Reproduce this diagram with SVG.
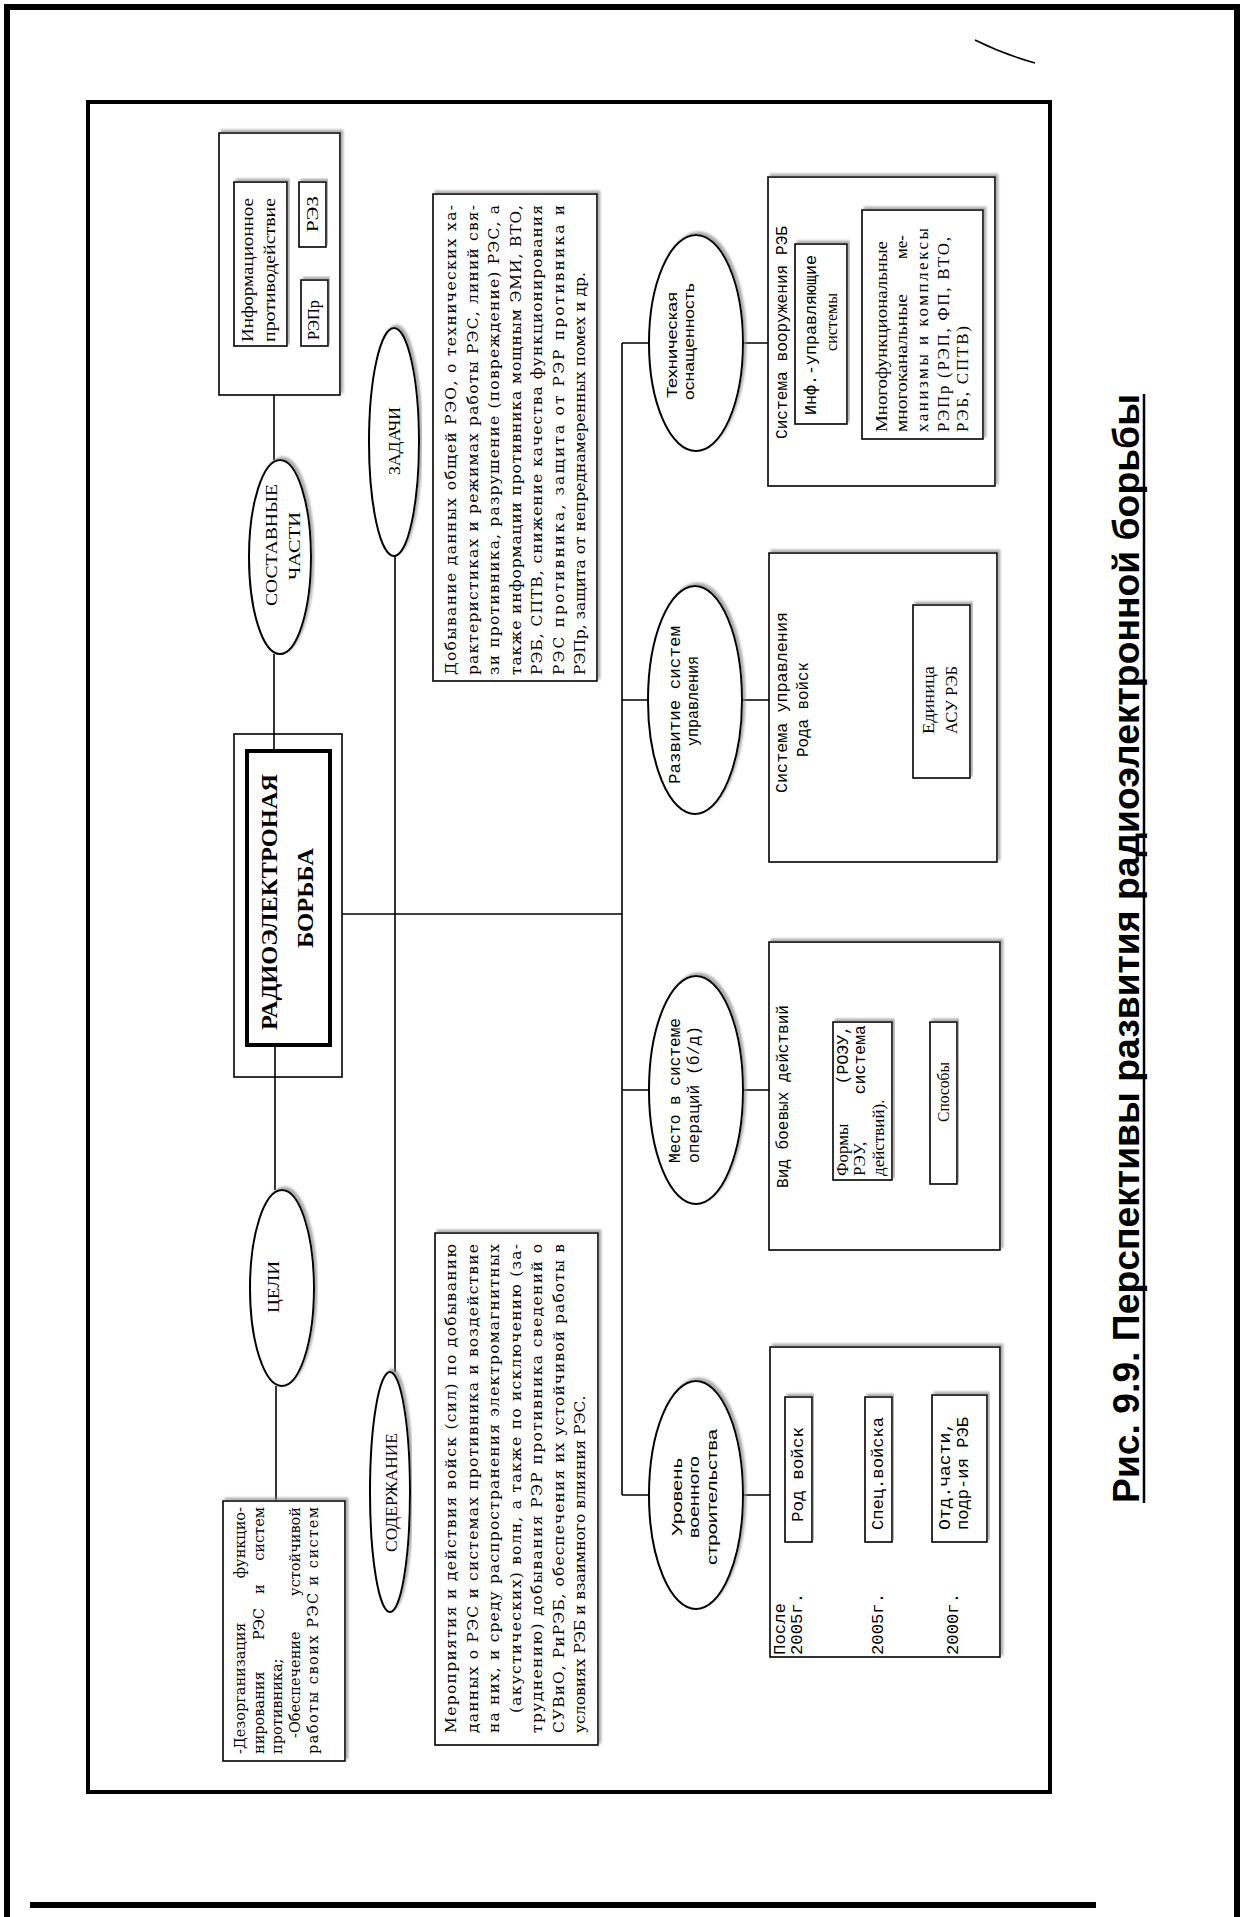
<svg xmlns="http://www.w3.org/2000/svg" width="1246" height="1917" viewBox="0 0 1246 1917">
<defs>
<filter id="sh" x="-5%" y="-5%" width="110%" height="110%">
<feDropShadow dx="2.5" dy="-2.5" stdDeviation="0.8" flood-color="#888" flood-opacity="0.7"/>
</filter>
</defs>
<style>
.bx{fill:#fff;stroke:#000;stroke-width:1.6;filter:url(#sh)}
.el{fill:#fff;stroke:#000;stroke-width:2;filter:url(#sh)}
.ln{stroke:#000;stroke-width:1.6;fill:none}
.s{font-family:"Liberation Serif","Times New Roman",serif;font-size:17px}
.d{font-family:"DejaVu Serif","Liberation Serif",serif;font-size:15.5px}
.g{font-family:"DejaVu Serif","Liberation Serif",serif;font-size:14.5px}
.m{font-family:"Liberation Mono","Courier New",monospace;font-size:16.5px}
.a{font-family:"Liberation Sans",Arial,sans-serif;font-size:15px}
.tb{font-family:"Liberation Serif","Times New Roman",serif;font-weight:bold;font-size:24px}
.cap{font-family:"Liberation Sans",Arial,sans-serif;font-weight:bold;font-size:37px}
</style>
<rect width="1246" height="1917" fill="#fff"/>
<g id="page">
<path d="M7,1917 V7 H1237 V1917" fill="none" stroke="#000" stroke-width="6"/>
<rect x="88" y="102" width="962" height="1690" fill="none" stroke="#000" stroke-width="4"/>
<line x1="30" y1="1905" x2="1096" y2="1905" stroke="#000" stroke-width="6"/>
<path d="M975,40 Q1003,54 1035,63" fill="none" stroke="#000" stroke-width="1.5"/>
</g>
<g id="connectors" class="ln">
<path d="M274,395 V460"/>
<path d="M274,654 V751"/>
<path d="M275,1045 V1190"/>
<path d="M276,1386 V1501"/>
<path d="M395,556 V1372"/>
<path d="M342,914 H622"/>
<path d="M622,343 V1495"/>
<path d="M622,343 H649 M743,343 H768"/>
<path d="M622,700 H648 M742,700 H769"/>
<path d="M622,1090 H649 M743,1090 H769"/>
<path d="M622,1495 H649 M743,1495 H770"/>
</g>
<g id="n-info">
<rect class="bx" x="219" y="133" width="121" height="262"/>
<rect class="bx" x="234" y="182" width="53" height="164"/>
<text class="s" transform="translate(253,342) rotate(-90)" textLength="144" lengthAdjust="spacingAndGlyphs">Информационное</text>
<text class="s" transform="translate(275,342) rotate(-90)" textLength="144" lengthAdjust="spacingAndGlyphs">противодействие</text>
<rect class="bx" x="299" y="182" width="27" height="65"/>
<text class="s" transform="translate(318,232) rotate(-90)" textLength="36" lengthAdjust="spacingAndGlyphs">РЭЗ</text>
<rect class="bx" x="301" y="280" width="27" height="66"/>
<text class="s" transform="translate(319,340) rotate(-90)" textLength="40" lengthAdjust="spacingAndGlyphs">РЭПр</text>
</g>
<g id="n-sostav">
<ellipse class="el" cx="280" cy="557" rx="31" ry="97"/>
<text class="s" transform="translate(277,606) rotate(-90)" textLength="122" lengthAdjust="spacingAndGlyphs">СОСТАВНЫЕ</text>
<text class="s" transform="translate(300,580) rotate(-90)" textLength="68" lengthAdjust="spacingAndGlyphs">ЧАСТИ</text>
</g>
<g id="n-zadachi">
<ellipse class="el" cx="394" cy="442" rx="25" ry="114"/>
<text class="s" transform="translate(400,475) rotate(-90)" textLength="68" lengthAdjust="spacingAndGlyphs">ЗАДАЧИ</text>
</g>
<g id="n-zadachi-text">
<rect class="bx" x="433" y="194" width="164" height="487"/>
<text class="d" transform="translate(456,675) rotate(-90)" textLength="470" lengthAdjust="spacing">Добывание данных общей РЭО, о технических ха-</text>
<text class="d" transform="translate(477.5,675) rotate(-90)" textLength="470" lengthAdjust="spacing">рактеристиках и режимах работы РЭС, линий свя-</text>
<text class="d" transform="translate(499,675) rotate(-90)" textLength="470" lengthAdjust="spacing">зи противника, разрушение (повреждение) РЭС, а</text>
<text class="d" transform="translate(520.5,675) rotate(-90)" textLength="470" lengthAdjust="spacing">также информации противника мощным ЭМИ, ВТО,</text>
<text class="d" transform="translate(542,675) rotate(-90)" textLength="470" lengthAdjust="spacing">РЭБ, СПТВ, снижение качества функционирования</text>
<text class="d" transform="translate(563.5,675) rotate(-90)" textLength="470" lengthAdjust="spacing">РЭС противника, защита от РЭР противника и</text>
<text class="d" transform="translate(585,675) rotate(-90)">РЭПр, защита от непреднамеренных помех и др.</text>
</g>
<g id="n-center">
<rect x="234" y="734" width="108" height="343" fill="none" stroke="#000" stroke-width="1.6"/>
<rect x="247" y="751" width="83" height="294" fill="#fff" stroke="#000" stroke-width="4"/>
<text class="tb" transform="translate(277,1030) rotate(-90)" textLength="256" lengthAdjust="spacingAndGlyphs">РАДИОЭЛЕКТРОНАЯ</text>
<text class="tb" transform="translate(313,948) rotate(-90)" textLength="100" lengthAdjust="spacingAndGlyphs">БОРЬБА</text>
</g>
<g id="n-celi">
<ellipse class="el" cx="282" cy="1288" rx="32" ry="98"/>
<text class="s" transform="translate(279,1313) rotate(-90)" textLength="52" lengthAdjust="spacingAndGlyphs">ЦЕЛИ</text>
</g>
<g id="n-celi-text">
<rect class="bx" x="223" y="1501" width="122" height="260"/>
<text class="g" transform="translate(245,1754) rotate(-90)">-Дезорганизация</text>
<text class="g" text-anchor="end" transform="translate(245,1507) rotate(-90)">функцио-</text>
<text class="g" transform="translate(264,1754) rotate(-90)">нирования</text>
<text class="g" transform="translate(264,1640) rotate(-90)">РЭС</text>
<text class="g" transform="translate(264,1594) rotate(-90)">и</text>
<text class="g" text-anchor="end" transform="translate(264,1507) rotate(-90)">систем</text>
<text class="g" transform="translate(282,1754) rotate(-90)">противника;</text>
<text class="g" transform="translate(300,1738) rotate(-90)">-Обеспечение</text>
<text class="g" text-anchor="end" transform="translate(300,1507) rotate(-90)">устойчивой</text>
<text class="g" transform="translate(318,1754) rotate(-90)" textLength="247" lengthAdjust="spacing">работы своих РЭС и систем</text>
</g>
<g id="n-soderzhanie">
<ellipse class="el" cx="390" cy="1492" rx="20" ry="120"/>
<text class="s" transform="translate(397,1552) rotate(-90)" textLength="119" lengthAdjust="spacingAndGlyphs">СОДЕРЖАНИЕ</text>
</g>
<g id="n-soderzhanie-text">
<rect class="bx" x="435" y="1233" width="163" height="512"/>
<text class="d" transform="translate(456,1733) rotate(-90)" textLength="489" lengthAdjust="spacing">Мероприятия и действия войск (сил) по добыванию</text>
<text class="d" transform="translate(477.5,1733) rotate(-90)" textLength="489" lengthAdjust="spacing">данных о РЭС и системах противника и воздействие</text>
<text class="d" transform="translate(499,1733) rotate(-90)" textLength="489" lengthAdjust="spacing">на них, и среду распространения электромагнитных</text>
<text class="d" transform="translate(520.5,1713) rotate(-90)" textLength="469" lengthAdjust="spacing">(акустических) волн, а также по исключению (за-</text>
<text class="d" transform="translate(542,1733) rotate(-90)" textLength="489" lengthAdjust="spacing">труднению) добывания РЭР противника сведений о</text>
<text class="d" transform="translate(563.5,1733) rotate(-90)" textLength="489" lengthAdjust="spacing">СУВиО, РиРЭБ, обеспечения их устойчивой работы в</text>
<text class="d" transform="translate(585,1733) rotate(-90)">условиях РЭБ и взаимного влияния РЭС.</text>
</g>
<g id="n-tech">
<ellipse class="el" cx="696" cy="343" rx="47" ry="108"/>
<text class="a" transform="translate(677,398) rotate(-90)" textLength="106" lengthAdjust="spacingAndGlyphs">Техническая</text>
<text class="a" transform="translate(694,400) rotate(-90)" textLength="117" lengthAdjust="spacingAndGlyphs">оснащенность</text>
</g>
<g id="n-razvitie">
<ellipse class="el" cx="695" cy="700" rx="47" ry="114"/>
<text class="m" transform="translate(680,784) rotate(-90)" textLength="158" lengthAdjust="spacingAndGlyphs">Развитие систем</text>
<text class="m" transform="translate(698,746) rotate(-90)" textLength="90" lengthAdjust="spacingAndGlyphs">управления</text>
</g>
<g id="n-mesto">
<ellipse class="el" cx="696" cy="1090" rx="47" ry="114"/>
<text class="m" transform="translate(680,1163) rotate(-90)" textLength="145" lengthAdjust="spacingAndGlyphs">Место в системе</text>
<text class="m" transform="translate(699,1163) rotate(-90)" textLength="137" lengthAdjust="spacingAndGlyphs">операций (б/д)</text>
</g>
<g id="n-uroven">
<ellipse class="el" cx="696" cy="1495" rx="47" ry="114"/>
<text class="a" transform="translate(682,1536) rotate(-90)" textLength="78" lengthAdjust="spacingAndGlyphs">Уровень</text>
<text class="a" transform="translate(699,1538) rotate(-90)" textLength="82" lengthAdjust="spacingAndGlyphs">военного</text>
<text class="a" transform="translate(717,1565) rotate(-90)" textLength="136" lengthAdjust="spacingAndGlyphs">строительства</text>
</g>
<g id="n-vooruzh">
<rect class="bx" x="768" y="177" width="227" height="309"/>
<text class="m" transform="translate(787,439) rotate(-90)" textLength="213" lengthAdjust="spacingAndGlyphs">Система вооружения РЭБ</text>
<rect class="bx" x="795" y="244" width="52" height="180"/>
<text class="m" transform="translate(816,415) rotate(-90)" textLength="160" lengthAdjust="spacingAndGlyphs">Инф.-управляющие</text>
<text class="s" transform="translate(837,351) rotate(-90)" textLength="58" lengthAdjust="spacingAndGlyphs">системы</text>
<rect class="bx" x="862" y="210" width="121" height="229"/>
<text class="s" transform="translate(887,432) rotate(-90)" textLength="191" lengthAdjust="spacingAndGlyphs">Многофункциональные</text>
<text class="s" transform="translate(907,432) rotate(-90)" textLength="138" lengthAdjust="spacingAndGlyphs">многоканальные</text>
<text class="s" text-anchor="end" transform="translate(907,235) rotate(-90)">ме-</text>
<text class="s" transform="translate(928,432) rotate(-90)" textLength="204" lengthAdjust="spacing">ханизмы и комплексы</text>
<text class="s" transform="translate(949,432) rotate(-90)" textLength="195" lengthAdjust="spacing">РЭПр (РЭП, ФП, ВТО,</text>
<text class="s" transform="translate(968,432) rotate(-90)" textLength="106" lengthAdjust="spacing">РЭБ, СПТВ)</text>
</g>
<g id="n-upravl">
<rect class="bx" x="769" y="553" width="228" height="309"/>
<text class="m" transform="translate(787,793) rotate(-90)" textLength="181" lengthAdjust="spacingAndGlyphs">Система управления</text>
<text class="m" transform="translate(808,757) rotate(-90)" textLength="95" lengthAdjust="spacingAndGlyphs">Рода войск</text>
<rect class="bx" x="913" y="605" width="57" height="173"/>
<text class="s" transform="translate(934,734) rotate(-90)" textLength="68" lengthAdjust="spacingAndGlyphs">Единица</text>
<text class="s" transform="translate(957,734) rotate(-90)" textLength="68" lengthAdjust="spacingAndGlyphs">АСУ РЭБ</text>
</g>
<g id="n-vid">
<rect class="bx" x="769" y="942" width="231" height="308"/>
<text class="m" transform="translate(788,1188) rotate(-90)" textLength="183" lengthAdjust="spacingAndGlyphs">Вид боевых действий</text>
<rect class="bx" x="833" y="1022" width="59" height="158"/>
<text class="s" font-size="15" transform="translate(848,1176) rotate(-90)">Формы</text>
<text class="m" font-size="14" text-anchor="end" transform="translate(848,1025) rotate(-90)">(РОЭУ,</text>
<text class="s" font-size="15" transform="translate(865,1176) rotate(-90)">РЭУ,</text>
<text class="m" font-size="14" text-anchor="end" transform="translate(865,1025) rotate(-90)">система</text>
<text class="s" font-size="15" transform="translate(884,1176) rotate(-90)">действий).</text>
<rect class="bx" x="930" y="1022" width="27" height="162"/>
<text class="s" transform="translate(949,1122) rotate(-90)" textLength="60" lengthAdjust="spacingAndGlyphs">Способы</text>
</g>
<g id="n-level">
<rect class="bx" x="770" y="1347" width="230" height="310"/>
<text class="m" transform="translate(785,1655) rotate(-90)" textLength="52" lengthAdjust="spacingAndGlyphs">После</text>
<text class="m" transform="translate(802,1655) rotate(-90)" textLength="62" lengthAdjust="spacingAndGlyphs">2005г.</text>
<text class="m" transform="translate(883,1655) rotate(-90)" textLength="62" lengthAdjust="spacingAndGlyphs">2005г.</text>
<text class="m" transform="translate(958,1655) rotate(-90)" textLength="62" lengthAdjust="spacingAndGlyphs">2000г.</text>
<rect class="bx" x="785" y="1397" width="27" height="145"/>
<text class="m" transform="translate(803,1522) rotate(-90)" textLength="95" lengthAdjust="spacingAndGlyphs">Род войск</text>
<rect class="bx" x="865" y="1397" width="27" height="145"/>
<text class="m" transform="translate(883,1530) rotate(-90)" textLength="113" lengthAdjust="spacingAndGlyphs">Спец.войска</text>
<rect class="bx" x="932" y="1395" width="55" height="147"/>
<text class="m" transform="translate(950,1530) rotate(-90)" textLength="108" lengthAdjust="spacingAndGlyphs">Отд.части,</text>
<text class="m" transform="translate(968,1530) rotate(-90)" textLength="113" lengthAdjust="spacingAndGlyphs">подр-ия РЭБ</text>
</g>
<g id="caption">
<text class="cap" transform="translate(1139,1503) rotate(-90)" textLength="1109" lengthAdjust="spacingAndGlyphs">Рис. 9.9. Перспективы развития радиоэлектронной борьбы</text>
<line x1="1144" y1="394" x2="1144" y2="1503" stroke="#000" stroke-width="2.5"/>
</g>
</svg>
